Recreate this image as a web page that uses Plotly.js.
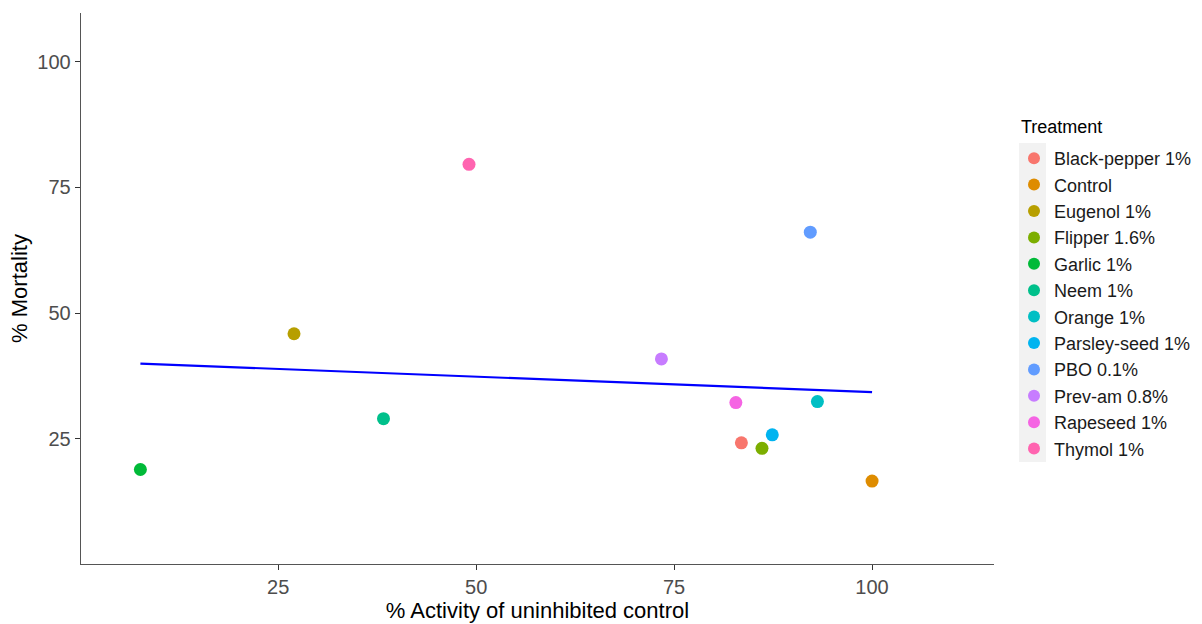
<!DOCTYPE html>
<html>
<head>
<meta charset="utf-8">
<script src="https://cdn.plot.ly/plotly-3.0.1.min.js"></script>
<style>
  html, body { margin: 0; padding: 0; background: #fff; }
  #chart { width: 1202px; height: 624px; }
</style>
</head>
<body>
<div id="chart"></div>
<script>
// Treatments, their inhibition (% activity of uninhibited control) and mortality
const treatments = ["Black-pepper 1%", "Control", "Eugenol 1%", "Flipper 1.6%", "Garlic 1%", "Neem 1%",
                    "Orange 1%", "Parsley-seed 1%", "PBO 0.1%", "Prev-am 0.8%", "Rapeseed 1%", "Thymol 1%"];
const activity  = [83.5, 100.0, 27.0, 86.1, 7.6, 38.3, 93.1, 87.4, 92.2, 73.4, 82.8, 49.1];
const mortality = [24.2, 16.6, 45.9, 23.1, 18.9, 29.0, 32.4, 25.8, 66.1, 40.9, 32.2, 79.6];
const colours   = ["#F8766D", "#DE8C00", "#B79F00", "#7CAE00", "#00BA38", "#00C08B",
                   "#00BFC4", "#00B4F0", "#619CFF", "#C77CFF", "#F564E3", "#FF64B0"];
const xTicks = [25, 50, 75, 100];
const yTicks = [25, 50, 75, 100];
const legendTitle = "Treatment";

const FONT = "Liberation Sans, Arial, sans-serif";

// One trace per treatment so each gets a legend entry
const traces = treatments.map((name, i) => ({
  type: "scatter",
  mode: "markers",
  name: name,
  legendgroup: name,
  x: [activity[i]],
  y: [mortality[i]],
  marker: { color: colours[i], size: 13, line: { width: 0 } },
  hoverinfo: "skip"
}));

// Ordinary least-squares fit of mortality on activity
const n = activity.length;
const mx = activity.reduce((a, b) => a + b, 0) / n;
const my = mortality.reduce((a, b) => a + b, 0) / n;
let sxy = 0, sxx = 0;
for (let i = 0; i < n; i++) {
  sxy += (activity[i] - mx) * (mortality[i] - my);
  sxx += (activity[i] - mx) ** 2;
}
const slope = sxy / sxx;
const intercept = my - slope * mx;
const xMin = Math.min(...activity), xMax = Math.max(...activity);
const fitX = [], fitY = [];
for (let k = 0; k <= 80; k++) {
  const xv = xMin + (xMax - xMin) * k / 80;
  fitX.push(xv);
  fitY.push(intercept + slope * xv);
}
traces.push({
  type: "scatter",
  mode: "lines",
  x: fitX,
  y: fitY,
  line: { color: "#0000FF", width: 2.2 },
  showlegend: false,
  hoverinfo: "skip"
});

// Plot-area geometry in pixels (used to place the legend pieces)
const W = 1202, H = 624;
const M = { l: 81, r: 208, t: 13, b: 60, autoexpand: false };
const pw = W - M.l - M.r, ph = H - M.t - M.b;
const px = v => (v - M.l) / pw;
const py = v => (H - M.b - v) / ph;

const axisCommon = {
  showgrid: false,
  zeroline: false,
  showline: true,
  linecolor: "#555555",
  linewidth: 1.3,
  ticks: "outside",
  ticklen: 5,
  tickwidth: 1,
  tickcolor: "#333333",
  tickfont: { family: FONT, size: 20, color: "#4D4D4D" },
  tickmode: "array"
};

const layout = {
  width: W,
  height: H,
  margin: M,
  paper_bgcolor: "#ffffff",
  plot_bgcolor: "#ffffff",
  font: { family: FONT },
  xaxis: Object.assign({}, axisCommon, {
    range: [0.1, 115.4],
    tickvals: xTicks,
    ticktext: xTicks.map(String),
    title: { text: "% Activity of uninhibited control", font: { family: FONT, size: 22, color: "#000" }, standoff: 0 }
  }),
  yaxis: Object.assign({}, axisCommon, {
    range: [0.1, 109.7],
    tickvals: yTicks,
    ticktext: yTicks.map(String),
    title: { text: "% Mortality", font: { family: FONT, size: 22, color: "#000" }, standoff: 3 }
  }),
  legend: {
    x: px(1014),
    xanchor: "left",
    y: py(140),
    yanchor: "top",
    bgcolor: "rgba(0,0,0,0)",
    font: { family: FONT, size: 18, color: "#1A1A1A" },
    tracegroupgap: 0,
    itemsizing: "constant"
  },
  annotations: [{
    text: legendTitle,
    xref: "paper", yref: "paper",
    x: px(1019), y: py(127),
    xanchor: "left", yanchor: "middle",
    showarrow: false,
    font: { family: FONT, size: 18, color: "#000" }
  }],
  shapes: [{
    type: "rect",
    xref: "paper", yref: "paper",
    x0: px(1019), x1: px(1046),
    y0: py(462), y1: py(143),
    fillcolor: "#F2F2F2",
    line: { width: 0 },
    layer: "below"
  }],
  showlegend: true
};

Plotly.newPlot("chart", traces, layout, { staticPlot: true, displayModeBar: false });
</script>
</body>
</html>
